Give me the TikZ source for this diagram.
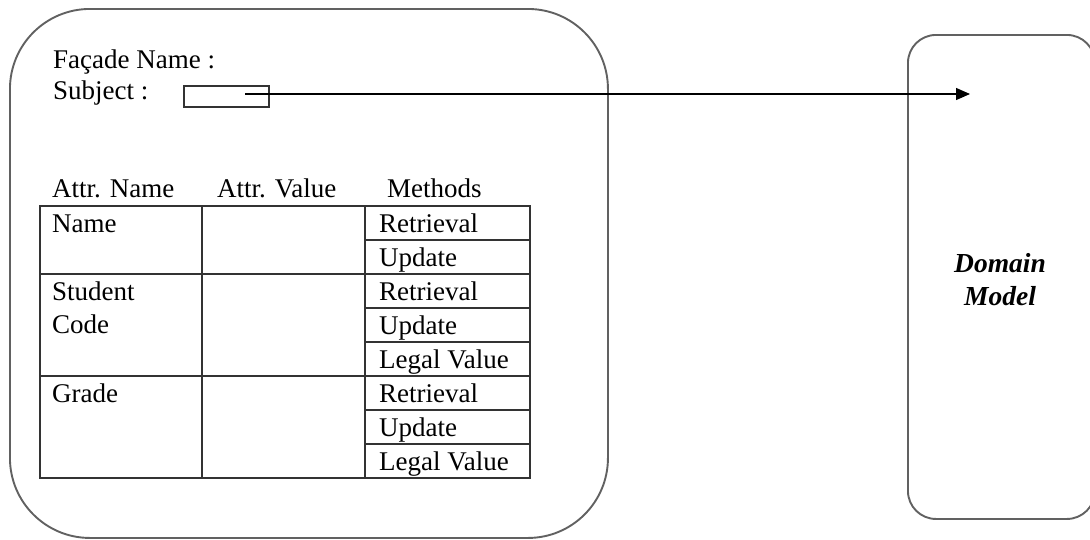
\documentclass[tikz,border=0pt]{standalone}
\usepackage{fontspec}
\setmainfont{Liberation Serif}
\usetikzlibrary{arrows.meta}
\begin{document}
\begin{tikzpicture}[x=1pt,y=-1pt,
  txt/.style={anchor=base west,inner sep=0pt,font=\fontsize{27}{31}\selectfont},
  dtxt/.style={anchor=base,inner sep=0pt,font=\fontsize{27.5}{31}\selectfont\bfseries\itshape},
  grid/.style={line width=1.8pt,draw=black!80},
  frame/.style={line width=1.9pt,draw=black!62,inner sep=0pt,anchor=north west},
  link/.style={line width=1.3pt,draw=black,-{Triangle[length=14pt,width=12pt]}},
]
\useasboundingbox (0,0) rectangle (1090,539);
\clip (0,0) rectangle (1090,539);

% outer frames
\node[frame,rounded corners=80pt,minimum width=598pt,minimum height=529pt] (facade) at (9,8) {};
\node[frame,rounded corners=28pt,minimum width=187pt,minimum height=484pt] (domain) at (907,34) {};

% facade header
\node[txt] (fname) at (53,68) {Façade Name :};
\node[txt] (subjlbl) at (53,99) {Subject :};
\node[draw=black!80,line width=1.5pt,inner sep=0pt,minimum width=85pt,minimum height=21pt,anchor=north west] (subj) at (183,85) {};

% link from the subject field to the domain model
\coordinate (src) at (245,94);
\coordinate (dst) at (970,94);
\draw[link] (src) -- (dst);

% domain model label
\node[dtxt] (dm1) at (1000,272) {Domain};
\node[dtxt] (dm2) at (1000,305) {Model};

% column headings
\node[txt] (h1) at (52,197) {Attr. Name};
\node[txt] (h2) at (217,197) {Attr. Value};
\node[txt] (h3) at (387,197) {Methods};

% table grid
\draw[grid] (40,206) rectangle (530,478);
\draw[grid] (202,206) -- (202,478);
\draw[grid] (365,206) -- (365,478);
\draw[grid] (40,274) -- (530,274);
\draw[grid] (40,376) -- (530,376);
\foreach \yy in {240,308,342,410,444}
  \draw[grid] (365,\yy) -- (530,\yy);

% attribute names
\node[txt] (a1) at (52,232) {Name};
\node[txt] (a2) at (52,300) {Student};
\node[txt] (a2b) at (52,333) {Code};
\node[txt] (a3) at (52,402) {Grade};

% methods
\node[txt] (m11) at (379,232) {Retrieval};
\node[txt] (m12) at (379,266) {Update};
\node[txt] (m21) at (379,300) {Retrieval};
\node[txt] (m22) at (379,334) {Update};
\node[txt] (m23) at (379,368) {Legal Value};
\node[txt] (m31) at (379,402) {Retrieval};
\node[txt] (m32) at (379,436) {Update};
\node[txt] (m33) at (379,470) {Legal Value};
\end{tikzpicture}
\end{document}
